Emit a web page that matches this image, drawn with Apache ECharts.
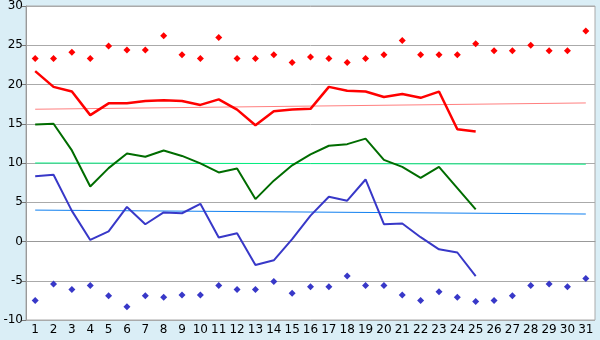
<!DOCTYPE html>
<html>
<head>
<meta charset="utf-8">
<script src="https://cdn.jsdelivr.net/npm/echarts@6/dist/echarts.min.js"></script>
<style>
  html, body { margin: 0; padding: 0; background: #daeef6; }
  #main-chart { width: 600px; height: 340px; }
</style>
</head>
<body>
<div id="main-chart"></div>
<script>
var days = [];
for (var d = 1; d <= 31; d++) days.push(String(d));

var maxPoints = [23.3, 23.3, 24.1, 23.3, 24.9, 24.4, 24.4, 26.2, 23.8, 23.3,
                 26.0, 23.3, 23.3, 23.8, 22.8, 23.5, 23.3, 22.8, 23.3, 23.8,
                 25.6, 23.8, 23.8, 23.8, 25.2, 24.3, 24.3, 25.0, 24.3, 24.3, 26.8];
var minPoints = [-7.5, -5.4, -6.1, -5.6, -6.9, -8.3, -6.9, -7.1, -6.8, -6.8,
                 -5.6, -6.1, -6.1, -5.1, -6.6, -5.75, -5.75, -4.4, -5.6, -5.6,
                 -6.8, -7.5, -6.4, -7.1, -7.65, -7.5, -6.9, -5.6, -5.4, -5.75, -4.7];
var redLine = [21.7, 19.7, 19.1, 16.1, 17.6, 17.6, 17.9, 18.0, 17.9, 17.4,
               18.1, 16.8, 14.8, 16.6, 16.8, 16.9, 19.7, 19.2, 19.1, 18.4,
               18.8, 18.3, 19.1, 14.3, 14.0];
var greenLine = [14.9, 15.0, 11.6, 7.0, 9.35, 11.2, 10.8, 11.6, 10.9, 9.95,
                 8.8, 9.3, 5.4, 7.75, 9.7, 11.1, 12.2, 12.4, 13.1, 10.4,
                 9.5, 8.1, 9.5, 6.8, 4.1];
var blueLine = [8.3, 8.5, 3.9, 0.2, 1.3, 4.4, 2.2, 3.7, 3.6, 4.8,
                0.5, 1.05, -3.0, -2.4, 0.3, 3.3, 5.7, 5.2, 7.9, 2.2,
                2.3, 0.55, -1.0, -1.4, -4.4];
// trend lines: value at first day, value at last day
var redTrend = [16.85, 17.65];
var greenTrend = [10.0, 9.85];
var blueTrend = [4.0, 3.5];

function trend(t) {
    return [[0, t[0]], [days.length - 1, t[1]]];
}
function line(name, data, color, width) {
    return {
        name: name, type: 'line', data: data, symbol: 'none',
        lineStyle: {color: color, width: width}, animation: false, z: 3
    };
}
function points(name, data, color) {
    return {
        name: name, type: 'line', data: data, symbol: 'diamond', symbolSize: 7,
        itemStyle: {color: color}, lineStyle: {width: 0, opacity: 0},
        animation: false, z: 4
    };
}

var myChart = echarts.init(document.getElementById('main-chart'));
var option = {
    backgroundColor: '#daeef6',
    textStyle: {fontFamily: 'DejaVu Sans'},
    grid: {
        left: 26, right: 5, top: 5, bottom: 20,
        show: true, backgroundColor: '#ffffff', borderColor: '#aaaaaa', borderWidth: 1
    },
    xAxis: {
        type: 'category',
        data: days,
        boundaryGap: true,
        axisLine: {lineStyle: {color: '#999999'}},
        axisTick: {alignWithLabel: true, length: 5, lineStyle: {color: '#777777'}},
        axisLabel: {color: '#000', fontSize: 12, margin: 4, interval: 0}
    },
    yAxis: {
        type: 'value',
        min: -10, max: 30, interval: 5,
        axisLine: {show: true, lineStyle: {color: '#999999'}},
        axisTick: {show: true, length: 4, lineStyle: {color: '#777777'}},
        axisLabel: {color: '#000', fontSize: 12, margin: 3},
        splitLine: {lineStyle: {color: '#aaaaaa'}}
    },
    series: [
        line('red trend', trend(redTrend), '#ff8080', 1),
        line('green trend', trend(greenTrend), '#00f080', 1),
        line('blue trend', trend(blueTrend), '#1080f0', 1),
        line('red', redLine, '#ff0000', 2.5),
        line('green', greenLine, '#006c00', 2),
        line('blue', blueLine, '#3838c8', 2),
        points('max', maxPoints, '#ff0000'),
        points('min', minPoints, '#3838c8')
    ]
};
myChart.setOption(option);
</script>
</body>
</html>
